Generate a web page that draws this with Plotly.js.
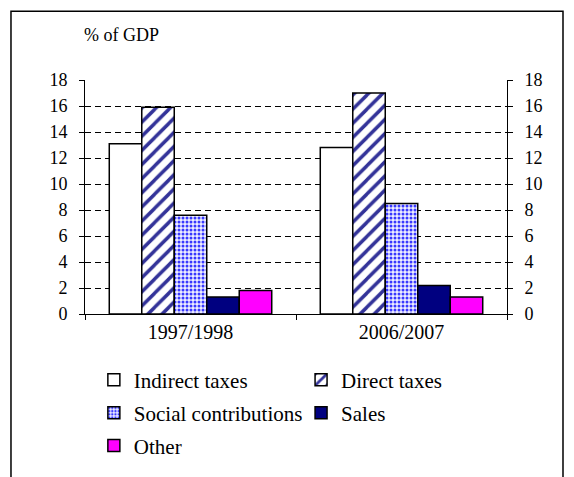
<!DOCTYPE html>
<html>
<head>
<meta charset="utf-8">
<script src="https://cdn.plot.ly/plotly-3.0.1.min.js"></script>
<style>
html,body{margin:0;padding:0;background:#fff;}
#chart{width:574px;height:477px;}
#chart text{font-family:"Liberation Serif","Times New Roman",serif !important;}
</style>
</head>
<body>
<div id="chart"></div>
<script>
const categories = ['1997/1998', '2006/2007'];
const indirectTaxes = [13.1, 12.8];
const directTaxes = [15.9, 17.0];
const socialContributions = [7.6, 8.5];
const sales = [1.3, 2.2];
const other = [1.8, 1.3];
const yTicks = [0, 2, 4, 6, 8, 10, 12, 14, 16, 18];

const font = 'Liberation Serif';
const line = {color: '#000', width: 1.5};

const traces = [
  {type: 'bar', name: 'Indirect taxes', x: categories, y: indirectTaxes, legend: 'legend',
   marker: {color: '#ffffff', line: line}},
  {type: 'bar', name: 'Direct taxes', x: categories, y: directTaxes, legend: 'legend2',
   marker: {color: '#ffffff', line: line, pattern: {shape: '/', fgcolor: '#333399', bgcolor: '#ffffff', size: 10, solidity: 0.35}}},
  {type: 'bar', name: 'Social contributions', x: categories, y: socialContributions, legend: 'legend3',
   marker: {color: '#ffffff', line: line, pattern: {shape: '.', fgcolor: '#3838ff', bgcolor: '#eeeeff', size: 4, solidity: 0.45}}},
  {type: 'bar', name: 'Sales', x: categories, y: sales, legend: 'legend4',
   marker: {color: '#000080', line: line}},
  {type: 'bar', name: 'Other', x: categories, y: other, legend: 'legend5',
   marker: {color: '#ff00ff', line: line}},
  {type: 'scatter', x: [], y: [], yaxis: 'y2', showlegend: false, hoverinfo: 'skip'}
];

const col1 = 0.021, col2 = 0.512;
const row1 = -0.2766, row2 = -0.417, row3 = -0.557;
function leg(x, y) {
  return {orientation: 'h', x: x, y: y, xanchor: 'left', yanchor: 'middle',
    bgcolor: 'rgba(0,0,0,0)', font: {family: font, size: 21, color: '#000'}};
}

const yAxisBase = {range: [0, 18], tickvals: yTicks, ticktext: yTicks.map(String),
  showline: true, linecolor: '#000', linewidth: 1, ticks: 'outside', ticklen: 5,
  tickcolor: '#000', zeroline: false, fixedrange: true,
  tickfont: {family: font, size: 18, color: '#000'}};

const layout = {
  width: 574, height: 477,
  font: {family: font, size: 18, color: '#000'},
  margin: {l: 85, r: 67, t: 80, b: 162},
  paper_bgcolor: '#fff', plot_bgcolor: '#fff',
  barmode: 'group', bargap: 0.23, bargroupgap: 0,
  showlegend: true,
  xaxis: {type: 'category', showline: true, linecolor: '#000', linewidth: 1,
    ticks: 'outside', ticklen: 5, tickcolor: '#000', tickson: 'boundaries',
    tickfont: {family: font, size: 20, color: '#000'}, fixedrange: true},
  yaxis: Object.assign({}, yAxisBase, {showgrid: true, gridcolor: '#000', gridwidth: 1,
    griddash: '6px,4px', ticklabelstandoff: 8}),
  yaxis2: Object.assign({}, yAxisBase, {overlaying: 'y', side: 'right', anchor: 'x',
    showgrid: false, ticklabelstandoff: 8}),
  legend: leg(col1, row1),
  legend2: leg(col2, row1),
  legend3: leg(col1, row2),
  legend4: leg(col2, row2),
  legend5: leg(col1, row3),
  annotations: [{text: '% of GDP', xref: 'paper', yref: 'paper', x: -0.007, y: 1.191,
    xanchor: 'left', yanchor: 'middle', showarrow: false,
    font: {family: font, size: 18, color: '#000'}}],
  shapes: [{type: 'rect', xref: 'paper', yref: 'paper', x0: -0.1754, x1: 1.1327,
    y0: -1.0, y1: 1.2936, line: {color: '#000', width: 1.5}, fillcolor: 'rgba(0,0,0,0)', layer: 'below'}]
};

Plotly.newPlot('chart', traces, layout, {displayModeBar: false, staticPlot: true});
</script>
</body>
</html>
